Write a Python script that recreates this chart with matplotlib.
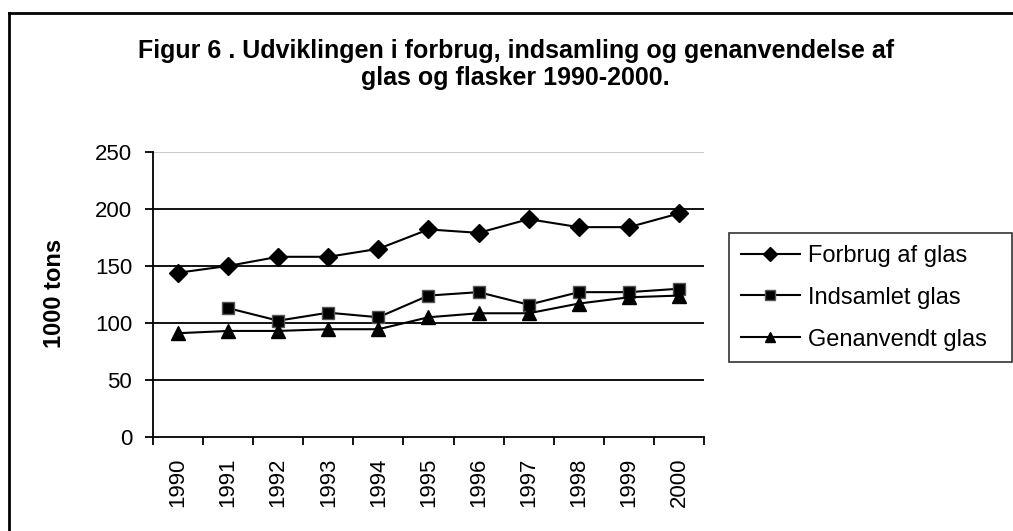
import numpy as np
import matplotlib.pyplot as plt
from matplotlib.lines import Line2D

plt.rcParams['font.family'] = ['Liberation Sans', 'DejaVu Sans']

# data (1000 tons)
years = ['1990', '1991', '1992', '1993', '1994', '1995',
         '1996', '1997', '1998', '1999', '2000']
forbrug = [144, 150, 158, 158, 165, 182, 179, 191, 184, 184, 196]
indsamlet = [np.nan, 113, 102, 109, 105, 124, 127, 116, 127, 127, 130]
genanvendt = [91, 93, 93, 94.5, 94.5, 105, 108.5, 108.5, 117, 122.5, 124]

fig = plt.figure(figsize=(10.13, 5.31), dpi=100)
ax = fig.add_axes([0.151, 0.177, 0.544, 0.537])

x = np.arange(len(years))
ax.plot(x, forbrug, color='black', lw=1.5, marker='D', ms=9,
        label='Forbrug af glas')
ax.plot(x, indsamlet, color='black', lw=1.5, marker='s', ms=9,
        mfc='black', mec='#555555', mew=1, label='Indsamlet glas')
ax.plot(x, genanvendt, color='black', lw=1.5, marker='^', ms=10,
        label='Genanvendt glas')

ax.set_xlim(-0.5, len(years) - 0.5)
ax.set_ylim(0, 250)
ax.set_yticks([0, 50, 100, 150, 200, 250])
for v in [50, 100, 150, 200]:
    ax.axhline(v, color='black', lw=1.3, zorder=0)
ax.axhline(250, color='#c0c0c0', lw=1.2, zorder=0)

# ticks at category boundaries, labels at centres
ax.set_xticks(np.arange(len(years) + 1) - 0.5)
ax.set_xticklabels([])
ax.set_xticks(x, minor=True)
ax.set_xticklabels(years, minor=True, rotation=90, fontsize=16)
ax.tick_params(axis='x', which='minor', length=0, pad=15)
ax.tick_params(axis='x', which='major', length=6, width=1.3)
ax.tick_params(axis='y', length=6, width=1.3, labelsize=16, pad=9)

for s in ['top', 'right']:
    ax.spines[s].set_visible(False)
for s in ['left', 'bottom']:
    ax.spines[s].set_linewidth(1.3)

ax.set_ylabel('1000 tons', fontsize=17, fontweight='bold')
ax.yaxis.set_label_coords(-0.158, 0.505)

fig.text(0.509, 0.879, 'Figur 6 . Udviklingen i forbrug, indsamling og genanvendelse af\nglas og flasker 1990-2000.',
         ha='center', va='center', fontsize=18, fontweight='bold', linespacing=1.15)

leg = fig.legend(loc='upper left', bbox_to_anchor=(0.7196, 0.5, 0.2794, 0.061),
                 mode='expand', fontsize=17,
                 frameon=True, fancybox=False, edgecolor='black',
                 handlelength=2.5, borderpad=0.5, labelspacing=0.84,
                 handletextpad=0.34, borderaxespad=0)
leg.get_frame().set_linewidth(1.2)
for h in leg.legend_handles:
    h.set_markersize(7)

# page border: only top and left edges visible in the original
fig.add_artist(Line2D([0.0089, 1.0], [0.9755, 0.9755], transform=fig.transFigure,
                      color='black', lw=2))
fig.add_artist(Line2D([0.0089, 0.0089], [0.0, 0.9755], transform=fig.transFigure,
                      color='black', lw=2))

fig.savefig('out.png', dpi=100)
